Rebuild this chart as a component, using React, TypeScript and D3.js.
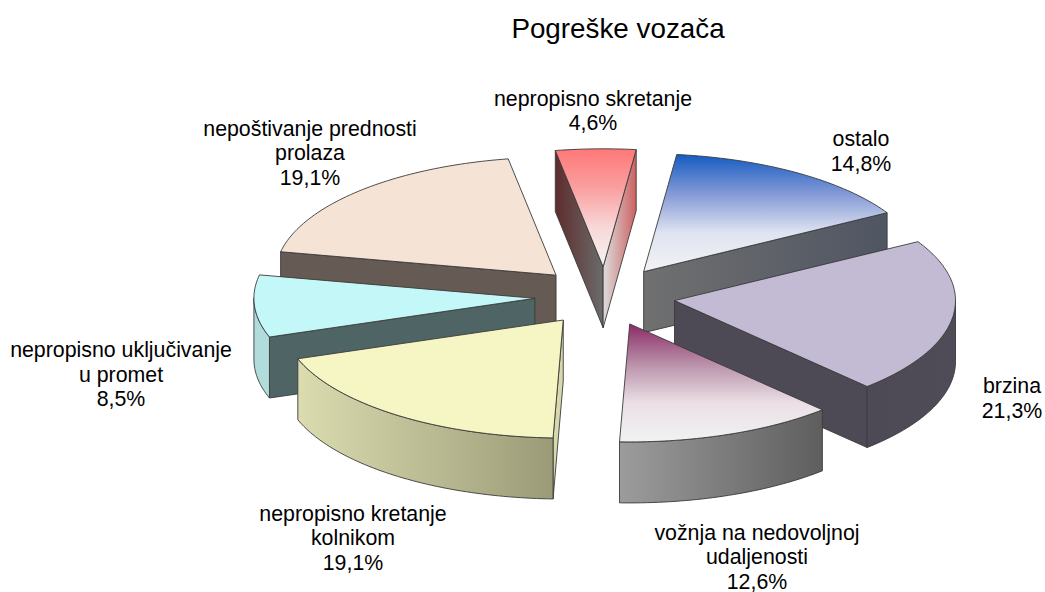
import React from 'react';
import * as d3 from 'd3';

const categories = [
  'nepropisno skretanje',
  'ostalo',
  'brzina',
  'vožnja na nedovoljnoj udaljenosti',
  'nepropisno kretanje kolnikom',
  'nepropisno uključivanje u promet',
  'nepoštivanje prednosti prolaza',
];
const values = [4.6, 14.8, 21.3, 12.6, 19.1, 8.5, 19.1];
const valueLabels = ['4,6%', '14,8%', '21,3%', '12,6%', '19,1%', '8,5%', '19,1%'];
const labelLines = [
  ['nepropisno skretanje'],
  ['ostalo'],
  ['brzina'],
  ['vožnja na nedovoljnoj', 'udaljenosti'],
  ['nepropisno kretanje', 'kolnikom'],
  ['nepropisno uključivanje', 'u promet'],
  ['nepoštivanje prednosti', 'prolaza'],
];

// layout of the tilted pie
const width = 1045;
const height = 592;
const cx = 605;
const cy = 296.3;
const rx = 281;
const ry = 118;
const depth = 61;
const explode = 0.25;
const rotation = (-9.8 * Math.PI) / 180;

// label anchor: centre x and first baseline
const labelX = [593, 861, 1012, 757, 353, 121, 310];
const labelY = [105.5, 146, 393, 539.5, 520.5, 357, 135.5];
const lineGap = 24.5;

// styles, one entry per slice: stops of a left-to-right or top-to-bottom gradient
const topColors = [
  ['#ff7878', '#fa9f9f', '#f8d8d8', '#f6f2f2'],
  ['#155bc2', '#8399d6', '#dfe3f1', '#f3f3f3'],
  ['#c3bad4', '#c3bad4'],
  ['#8b2a66', '#b88fa8', '#eadfe5', '#f2f2f2'],
  ['#f6f6c4', '#f6f6c4'],
  ['#c4f7f7', '#c4f7f7'],
  ['#f5e4d6', '#f5e4d6'],
];
const startWallColors = [
  ['#5e2c2c', '#6b6b6b'],
  ['#666666', '#666666'],
  ['#4d4a55', '#4d4a55'],
  ['#999999', '#999999'],
  ['#d8d8ae', '#d8d8ae'],
  ['#4f6565', '#4f6565'],
  ['#665a55', '#665a55'],
];
const endWallColors = [
  ['#dddddd', '#cc6060'],
  ['#707070', '#4f5562'],
  ['#4d4a55', '#4d4a55'],
  ['#5e5e5e', '#5e5e5e'],
  ['#9b9b78', '#9b9b78'],
  ['#4f6565', '#4f6565'],
  ['#665a55', '#665a55'],
];
const rimColors = [
  ['#666666', '#666666'],
  ['#666666', '#666666'],
  ['#4d4a55', '#4f4c57'],
  ['#9c9c9c', '#5e5e5e'],
  ['#dcdcb0', '#9b9b78'],
  ['#b0dcdc', '#b0dcdc'],
  ['#665a55', '#665a55'],
];

const pie = d3
  .pie<number>()
  .sort(null)
  .startAngle(rotation)
  .endAngle(rotation + 2 * Math.PI);

const px = d3.scaleLinear().domain([-1, 1]).range([-rx, rx]);
const py = d3.scaleLinear().domain([-1, 1]).range([ry, -ry]);
const line = d3.line();

type Pt = [number, number];

function Gradient({ id, colors, vertical }: { id: string; colors: string[]; vertical?: boolean }) {
  return (
    <linearGradient id={id} x1="0" y1="0" x2={vertical ? 0 : 1} y2={vertical ? 1 : 0}>
      {colors.map((c, i) => (
        <stop key={i} offset={i / (colors.length - 1)} stopColor={c} />
      ))}
    </linearGradient>
  );
}

function arcPoints(a0: number, a1: number, ox: number, oy: number, dy = 0): Pt[] {
  const steps = Math.max(2, Math.ceil(Math.abs(a1 - a0) / 0.02));
  return d3.range(steps + 1).map(i => {
    const a = a0 + ((a1 - a0) * i) / steps;
    return [ox + px(Math.sin(a)), oy + py(Math.cos(a)) + dy] as Pt;
  });
}

const edge = { stroke: '#3a3a3a', strokeWidth: 0.9, strokeLinejoin: 'round' as const };

function Slice({ arc, index }: { arc: d3.PieArcDatum<number>; index: number }) {
  const { startAngle: a0, endAngle: a1 } = arc;
  const mid = (a0 + a1) / 2;
  const ox = cx + explode * px(Math.sin(mid));
  const oy = cy + explode * py(Math.cos(mid));
  const apex: Pt = [ox, oy];
  const apexLow: Pt = [ox, oy + depth];

  const wall = (a: number) => {
    const rim: Pt = [ox + px(Math.sin(a)), oy + py(Math.cos(a))];
    return [apex, rim, [rim[0], rim[1] + depth] as Pt, apexLow];
  };

  // only the part of the outer rim facing the viewer (bottom half of the ellipse)
  const lo = Math.max(a0, Math.PI / 2);
  const hi = Math.min(a1, (3 * Math.PI) / 2);
  const rim =
    hi > lo
      ? [...arcPoints(lo, hi, ox, oy), ...arcPoints(hi, lo, ox, oy, depth)]
      : null;

  const top = [apex, ...arcPoints(a0, a1, ox, oy)];

  return (
    <g>
      {Math.sin(a0) < 0 && (
        <path d={line(wall(a0) as Pt[]) + 'Z'} fill={`url(#start${index})`} {...edge} />
      )}
      {Math.sin(a1) > 0 && (
        <path d={line(wall(a1) as Pt[]) + 'Z'} fill={`url(#end${index})`} {...edge} />
      )}
      {rim && <path d={line(rim) + 'Z'} fill={`url(#rim${index})`} {...edge} />}
      <path d={line(top) + 'Z'} fill={`url(#top${index})`} {...edge} />
    </g>
  );
}

export default function App() {
  const arcs = pie(values);
  // back slices first so the front ones cover them
  const order = d3.range(arcs.length).sort(
    (a, b) =>
      Math.cos((arcs[b].startAngle + arcs[b].endAngle) / 2) -
      Math.cos((arcs[a].startAngle + arcs[a].endAngle) / 2)
  );

  return (
    <svg
      width={width}
      height={height}
      style={{ position: 'absolute', left: 0, top: 0, background: '#fff' }}
      fontFamily="'Liberation Sans', Arial, sans-serif"
    >
      <defs>
        {categories.map((_, i) => (
          <React.Fragment key={i}>
            <Gradient id={`top${i}`} colors={topColors[i]} vertical />
            <Gradient id={`start${i}`} colors={startWallColors[i]} />
            <Gradient id={`end${i}`} colors={endWallColors[i]} />
            <Gradient id={`rim${i}`} colors={rimColors[i]} />
          </React.Fragment>
        ))}
      </defs>

      <text x={618} y={38} textAnchor="middle" fontSize={27.8} fill="#000">
        Pogreške vozača
      </text>

      {order.map(i => (
        <Slice key={categories[i]} arc={arcs[i]} index={i} />
      ))}

      {categories.map((name, i) => (
        <text key={name} textAnchor="middle" fontSize={21.33} fill="#000">
          {[...labelLines[i], valueLabels[i]].map((t, j) => (
            <tspan key={j} x={labelX[i]} y={labelY[i] + j * lineGap}>
              {t}
            </tspan>
          ))}
        </text>
      ))}
    </svg>
  );
}
